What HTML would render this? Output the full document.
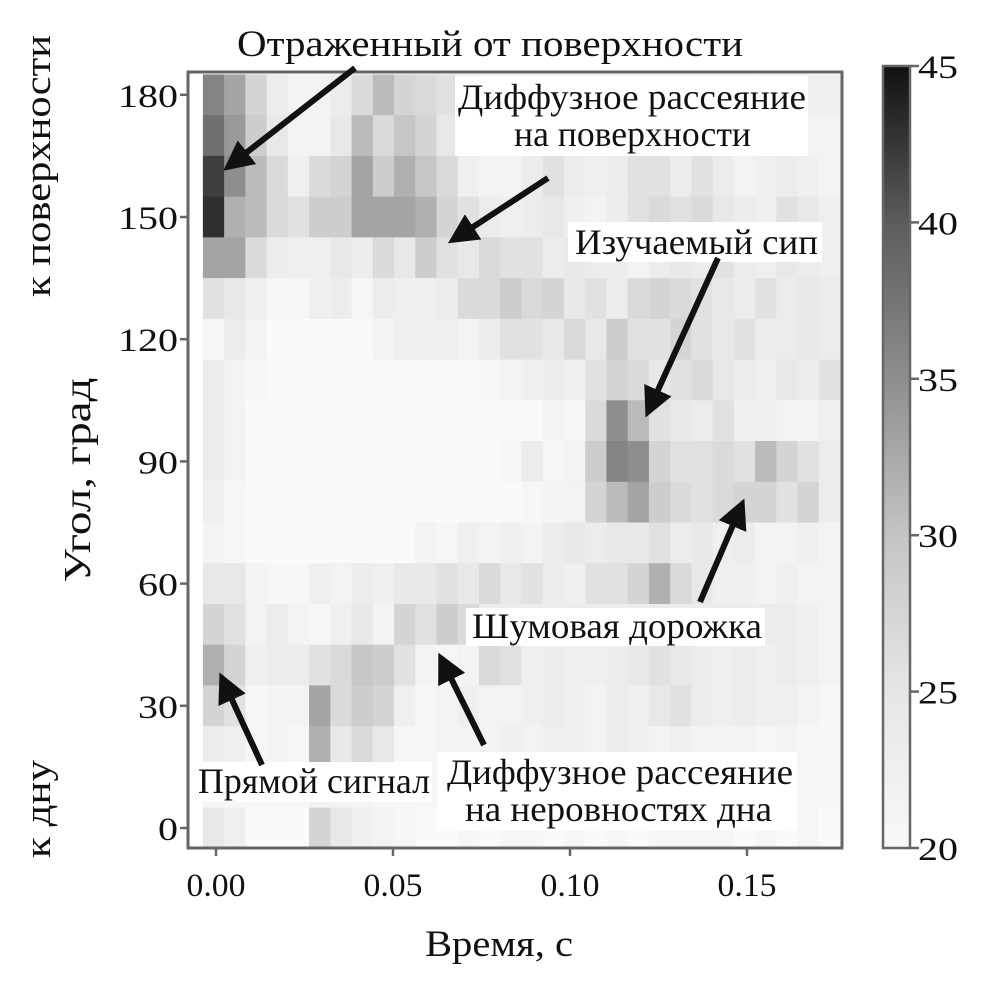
<!DOCTYPE html>
<html><head><meta charset="utf-8"><style>
html,body{margin:0;padding:0;background:#fff;}
svg text{font-family:"Liberation Serif",serif;fill:#111;}
</style></head><body>
<svg id="chart" width="1008" height="979" viewBox="0 0 1008 979" xmlns="http://www.w3.org/2000/svg">
<defs>
<linearGradient id="cbg" x1="0" y1="1" x2="0" y2="0">
<stop offset="0" stop-color="#f8f8f8"/><stop offset="0.2" stop-color="#e6e6e6"/><stop offset="0.4" stop-color="#c4c4c4"/><stop offset="0.6" stop-color="#8e8e8e"/><stop offset="0.8" stop-color="#5c5c5c"/><stop offset="1" stop-color="#111"/>
</linearGradient>
<marker id="ah" markerWidth="5" markerHeight="5" refX="4" refY="2.5" orient="auto" markerUnits="strokeWidth"><path d="M0,0 L5,2.5 L0,5 Z" fill="#111"/></marker>
</defs>
<g id="cells"></g>
<rect x="188" y="72" width="654" height="776" fill="none" stroke="#666" stroke-width="3"/>
<g id="axes"></g>
<rect x="883" y="66" width="27" height="782" fill="url(#cbg)" stroke="#666" stroke-width="2.5"/>
<g id="cbticks"></g>
<text x="425" y="956" font-size="37" textLength="148" lengthAdjust="spacingAndGlyphs">Время, с</text>
<text transform="translate(90,480) rotate(-90)" font-size="38" text-anchor="middle" textLength="205" lengthAdjust="spacingAndGlyphs">Угол, град</text>
<text transform="translate(50,166) rotate(-90)" font-size="37" text-anchor="middle" textLength="262" lengthAdjust="spacingAndGlyphs">к поверхности</text>
<text transform="translate(50,809) rotate(-90)" font-size="37" text-anchor="middle" textLength="98" lengthAdjust="spacingAndGlyphs">к дну</text>
<g id="annotations">
<text x="237" y="56" font-size="37" textLength="506" lengthAdjust="spacingAndGlyphs">Отраженный от поверхности</text>
<rect x="455" y="76" width="353" height="80" fill="#fff"/>
<text x="458" y="109" font-size="36" textLength="348" lengthAdjust="spacingAndGlyphs">Диффузное рассеяние</text>
<text x="514" y="146" font-size="36" textLength="237" lengthAdjust="spacingAndGlyphs">на поверхности</text>
<rect x="568" y="222" width="254" height="40" fill="#fff"/>
<text x="575" y="254" font-size="36" textLength="243" lengthAdjust="spacingAndGlyphs">Изучаемый сип</text>
<rect x="466" y="608" width="299" height="38" fill="#fff"/>
<text x="472" y="638" font-size="36" textLength="290" lengthAdjust="spacingAndGlyphs">Шумовая дорожка</text>
<rect x="195" y="762" width="237" height="40" fill="#fff"/>
<text x="198" y="793" font-size="36" textLength="232" lengthAdjust="spacingAndGlyphs">Прямой сигнал</text>
<rect x="437" y="752" width="360" height="78" fill="#fff"/>
<text x="447" y="784" font-size="36" textLength="346" lengthAdjust="spacingAndGlyphs">Диффузное рассеяние</text>
<text x="465" y="821" font-size="36" textLength="307" lengthAdjust="spacingAndGlyphs">на неровностях дна</text>
<g stroke="#111" stroke-width="6" marker-end="url(#ah)" fill="none">
<line x1="355" y1="68" x2="228" y2="167"/>
<line x1="548" y1="178" x2="453" y2="240"/>
<line x1="718" y1="258" x2="648" y2="412"/>
<line x1="700" y1="602" x2="742" y2="504"/>
<line x1="262" y1="765" x2="222" y2="678"/>
<line x1="484" y1="745" x2="441" y2="658"/>
</g>
</g>
</svg>
<script>
const angles=[180,170,160,150,140,130,120,110,100,90,80,70,60,50,40,30,20,10,0];
const timeStep=0.006;
const xTicks=[0,0.05,0.10,0.15];
const xTickLabels=["0.00","0.05","0.10","0.15"];
const yTicks=[0,30,60,90,120,150,180];
const cbTicks=[20,25,30,35,40,45];
const values=[
[36,33,28,24,22,22,24,27,31,28,27,26,24,23,23,23,23,23,23,23,23,23,23,23,23,23,23,23,23,23],
[38,34,29,25,22,22,25,31,27,30,28,25,22,22,22,22,22,22,22,22,22,22,22,22,22,22,22,22,22,22],
[42,35,31,27,23,27,28,33,29,32,30,27,23,22,22,24,26,24,23,24,26,26,24,26,24,22,23,24,23,22],
[43,32,31,27,26,29,29,33,33,33,32,28,26,24,23,24,25,23,22,24,26,27,26,27,25,24,23,26,25,23],
[33,33,27,24,23,23,25,24,27,25,29,26,25,27,26,26,24,25,24,24,22,24,25,24,26,24,23,25,24,23],
[26,25,23,21,21,23,24,21,24,23,23,24,27,27,29,27,28,25,26,24,27,28,27,26,25,24,26,24,25,24],
[21,24,22,20,20,20,20,20,22,23,23,23,22,24,26,26,25,27,25,29,26,26,28,26,25,26,24,24,25,24],
[24,22,21,20,20,20,20,20,20,20,20,20,20,21,22,23,24,23,26,28,27,25,26,27,25,24,23,25,24,26],
[24,22,20,20,20,20,20,20,20,20,20,20,20,20,20,20,22,21,27,35,31,26,25,24,26,23,23,22,22,23],
[24,22,20,20,20,20,20,20,20,20,20,20,20,20,21,24,21,22,29,36,35,28,26,26,27,26,31,28,26,24],
[23,21,20,20,20,20,20,20,20,20,20,20,20,20,20,21,22,22,28,31,33,29,27,26,27,28,28,26,28,24],
[22,21,20,20,20,20,20,20,20,20,22,21,23,22,23,22,24,25,24,25,25,26,24,25,23,24,22,22,23,22],
[25,25,22,21,21,23,22,24,23,25,25,26,25,27,25,26,24,23,26,26,28,32,27,25,23,23,22,23,22,22],
[28,26,22,24,22,21,23,25,22,28,26,29,27,24,24,24,24,24,24,24,24,24,24,24,24,24,24,24,23,22],
[32,28,23,24,24,26,27,30,29,26,22,21,22,27,26,23,24,23,23,24,25,26,25,24,23,24,23,24,23,22],
[28,26,21,22,22,33,27,29,28,23,21,22,23,22,22,23,24,23,22,24,23,25,26,24,23,24,23,23,22,21],
[24,23,21,22,21,32,25,27,25,21,21,22,22,22,23,22,23,23,22,24,23,22,23,22,22,22,21,22,21,21],
[21,21,21,21,21,22,22,22,21,21,21,21,21,21,21,21,21,21,21,21,21,21,21,21,21,21,21,21,21,21],
[25,23,20,20,20,28,25,23,22,21,20,20,21,20,21,21,20,21,20,21,20,21,21,21,21,20,21,20,21,20]
];
const NS='http://www.w3.org/2000/svg';
const xScale=t=>216+(t/0.05)*177;
const yScale=a=>828-(a/30)*122.2;
const cbScale=v=>848-(v-20)/25*782;
const stops=[[20,250],[25,232],[30,198],[35,142],[40,92],[45,17]];
function gray(v){v=Math.max(20,Math.min(45,v));for(let i=0;i<stops.length-1;i++){const a=stops[i],b=stops[i+1];if(v<=b[0]){const g=Math.round(a[1]+(b[1]-a[1])*(v-a[0])/(b[0]-a[0]));return `rgb(${g},${g},${g})`;}}return 'rgb(17,17,17)';}
function mk(tag,attrs,parent){const e=document.createElementNS(NS,tag);for(const k in attrs)e.setAttribute(k,attrs[k]);parent.appendChild(e);return e;}
const cells=document.getElementById('cells');
const cw=xScale(timeStep)-xScale(0), rh=yScale(0)-yScale(10);
angles.forEach((a,r)=>{values[r].forEach((v,c)=>{
 const t=c*timeStep;
 const e=mk('rect',{x:(xScale(t)-cw/2-2.5).toFixed(2),y:(yScale(a)-rh/2).toFixed(2),width:(cw+0.6).toFixed(2),height:(rh+0.6).toFixed(2),fill:gray(v)},cells);
 
 
});});
const axes=document.getElementById('axes');
xTicks.forEach((t,i)=>{
 const x=xScale(t);
 const l=mk('line',{x1:x,y1:848,x2:x,y2:856,stroke:'#666','stroke-width':2.5},axes);
 
 
 const tx=mk('text',{x:x,y:896,'font-size':33,'text-anchor':'middle',textLength:59,lengthAdjust:'spacingAndGlyphs'},axes);
 tx.textContent=xTickLabels[i];
 
 
});
yTicks.forEach(a=>{
 const y=yScale(a);
 const l=mk('line',{x1:180,y1:y,x2:188,y2:y,stroke:'#666','stroke-width':2.5},axes);
 
 
 const s=String(a);
 const tx=mk('text',{x:178-s.length*20,y:y+12,'font-size':33,textLength:s.length*20,lengthAdjust:'spacingAndGlyphs'},axes);
 tx.textContent=s;
 
 
});
const cbt=document.getElementById('cbticks');
cbTicks.forEach(v=>{
 const y=cbScale(v);
 const l=mk('line',{x1:910,y1:y,x2:919,y2:y,stroke:'#666','stroke-width':2.5},cbt);
 
 
 const tx=mk('text',{x:918,y:y+12,'font-size':33,textLength:40,lengthAdjust:'spacingAndGlyphs'},cbt);
 tx.textContent=String(v);
 
 
});
</script>
</body></html>
